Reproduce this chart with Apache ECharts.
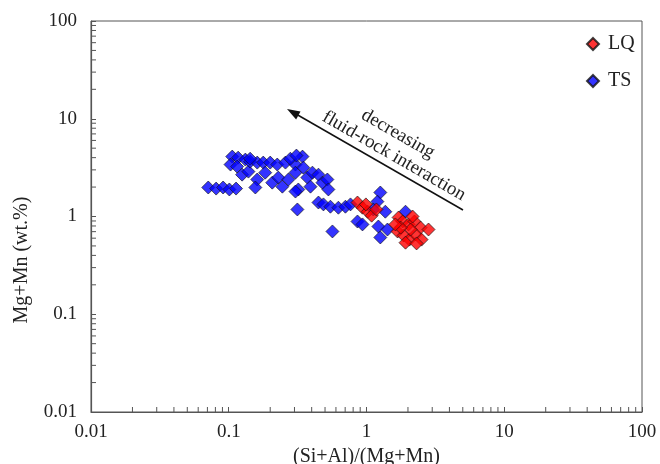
<!DOCTYPE html>
<html>
<head>
<meta charset="utf-8">
<script src="https://cdn.jsdelivr.net/npm/echarts@6/dist/echarts.min.js"></script>
<style>html,body{margin:0;padding:0;background:#fff}#c{width:660px;height:464px}</style>
</head>
<body>
<div id="c"></div>
<script>
var seriesNames = ['LQ', 'TS'];
var xTitle = '(Si+Al)/(Mg+Mn)';
var yTitle = 'Mg+Mn (wt.%)';
var arrowText1 = 'decreasing';
var arrowText2 = 'fluid-rock interaction';

var lqX = [0.86, 0.935, 1.02, 1.09, 1.18, 0.99, 1.71, 1.83, 2.02, 2.23, 2.47, 2.82, 1.68, 1.86, 2.05, 2.27, 2.51, 2.09, 1.77, 1.92, 2.31, 1.62, 2.16];
var lqY = [1.39, 1.23, 1.12, 1.02, 1.18, 1.33, 0.977, 0.889, 0.83, 0.889, 0.77, 0.736, 0.703, 0.64, 0.58, 0.655, 0.58, 0.736, 0.77, 0.54, 0.53, 0.83, 1.0];

var tsX = [0.071, 0.081, 0.091, 0.101, 0.113, 0.106, 0.103, 0.117, 0.115, 0.132, 0.125, 0.139, 0.143, 0.161, 0.161, 0.156, 0.178, 0.184, 0.2, 0.207, 0.225, 0.229, 0.245, 0.258, 0.271, 0.305, 0.305, 0.32, 0.343, 0.348, 0.315, 0.372, 0.405, 0.448, 0.479, 0.52, 0.529, 0.392, 0.305, 0.448, 0.487, 0.547, 0.625, 0.703, 0.765, 0.566, 0.86, 0.935, 1.26, 1.2, 1.12, 1.37, 1.22, 1.42, 1.26, 1.92, 0.143, 0.28, 0.31];
var tsY = [1.98, 1.93, 1.98, 1.89, 1.93, 4.1, 3.4, 4.0, 3.24, 3.82, 2.68, 2.88, 3.64, 3.56, 2.39, 1.98, 3.56, 2.81, 3.56, 2.22, 3.4, 2.5, 2.02, 3.56, 2.39, 3.4, 2.81, 1.89, 4.1, 3.16, 1.18, 2.5, 2.81, 2.68, 2.22, 2.39, 1.89, 2.02, 1.8, 1.39, 1.33, 1.26, 1.23, 1.26, 1.33, 0.703, 0.889, 0.83, 1.76, 1.42, 1.18, 1.12, 0.79, 0.736, 0.61, 1.12, 3.9, 3.9, 4.2];

var decades = [0.01, 0.1, 1, 10];
var minorMult = [2, 3, 4, 5, 6, 7, 8, 9];

function zip(a, b) { return a.map(function (v, i) { return [v, b[i]]; }); }

var font = 'Liberation Serif';
var chart = echarts.init(document.getElementById('c'));
var option = {
  animation: false,
  backgroundColor: '#fff',
  grid: { left: 91, right: 18, top: 21, bottom: 52, show: true, borderColor: '#555', borderWidth: 1, outerBoundsMode: 'none', containLabel: false },
  legend: {
    orient: 'vertical', left: 581, top: 29, itemWidth: 12, itemHeight: 12, itemGap: 17,
    icon: 'diamond',
    textStyle: { fontFamily: font, fontSize: 20, color: '#222', padding: [0, 0, 0, 4] },
    data: seriesNames
  },
  xAxis: {
    type: 'log', logBase: 10, min: 0.01, max: 100,
    name: xTitle, nameLocation: 'middle', nameGap: 31,
    nameTextStyle: { fontFamily: font, fontSize: 20, color: '#222' },
    axisLine: { lineStyle: { color: '#555', width: 1.2 } },
    axisTick: { inside: true, length: 5, lineStyle: { color: '#555' } },
    axisLabel: { fontFamily: font, fontSize: 19, color: '#222', margin: 11 },
    splitLine: { show: false }
  },
  yAxis: {
    type: 'log', logBase: 10, min: 0.01, max: 100,
    axisLine: { lineStyle: { color: '#555', width: 1.2 } },
    axisTick: { inside: true, length: 5, lineStyle: { color: '#555' } },
    axisLabel: { fontFamily: font, fontSize: 19, color: '#222', margin: 14 },
    splitLine: { show: false }
  },
  series: [
    {
      name: 'TS', type: 'scatter', symbol: 'diamond', symbolSize: 13,
      itemStyle: { color: '#0000ff', borderColor: '#111', borderWidth: 0.8 },
      data: zip(tsX, tsY), z: 3
    },
    {
      name: 'LQ', type: 'scatter', symbol: 'diamond', symbolSize: 13,
      itemStyle: { color: '#ff0000', borderColor: '#111', borderWidth: 0.8 },
      data: zip(lqX, lqY), z: 4
    }
  ]
};
chart.setOption(option);

// minor ticks placed through the chart's own log scales
var g = [];
decades.forEach(function (d) {
  minorMult.forEach(function (m) {
    var v = d * m;
    var px = chart.convertToPixel({ gridIndex: 0 }, [v, 0.01]);
    var py = chart.convertToPixel({ gridIndex: 0 }, [0.01, v]);
    g.push({ type: 'line', silent: true, shape: { x1: px[0], y1: px[1], x2: px[0], y2: px[1] - 5 }, style: { stroke: '#555', lineWidth: 1 } });
    g.push({ type: 'line', silent: true, shape: { x1: py[0], y1: py[1], x2: py[0] + 5, y2: py[1] }, style: { stroke: '#555', lineWidth: 1 } });
  });
});
g.push({ type: 'text', x: 22, y: 260, rotation: Math.PI / 2,
  style: { text: yTitle, font: '20px "Liberation Serif"', fill: '#222', align: 'center', verticalAlign: 'middle' } });
g.push({ type: 'line', shape: { x1: 463, y1: 210, x2: 296, y2: 114 }, style: { stroke: '#111', lineWidth: 1.5 } });
g.push({ type: 'polygon', shape: { points: [[287, 109], [300.5, 111.6], [296.1, 119.4]] }, style: { fill: '#111' } });
g.push({ type: 'text', x: 398, y: 134, rotation: -0.521,
  style: { text: arrowText1, font: '19px "Liberation Serif"', fill: '#222', align: 'center', verticalAlign: 'middle' } });
g.push({ type: 'text', x: 394, y: 156, rotation: -0.521,
  style: { text: arrowText2, font: '19px "Liberation Serif"', fill: '#222', align: 'center', verticalAlign: 'middle' } });
chart.setOption({ graphic: g });
</script>
</body>
</html>
